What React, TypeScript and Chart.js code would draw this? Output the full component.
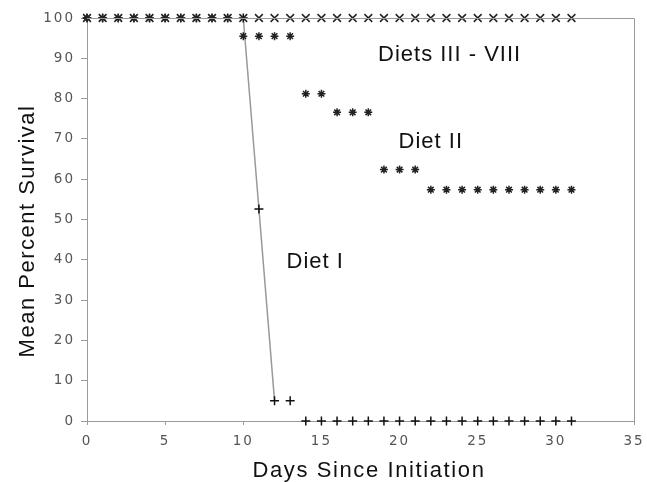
import React, { useEffect, useRef } from 'react';
import { Chart, registerables } from 'chart.js';

Chart.register(...registerables);

const days = [0, 1, 2, 3, 4, 5, 6, 7, 8, 9, 10, 11, 12, 13, 14, 15, 16, 17, 18, 19, 20, 21, 22, 23, 24, 25, 26, 27, 28, 29, 30, 31];
const dietsIIItoVIII = [100, 100, 100, 100, 100, 100, 100, 100, 100, 100, 100, 100, 100, 100, 100, 100, 100, 100, 100, 100, 100, 100, 100, 100, 100, 100, 100, 100, 100, 100, 100, 100];
const dietII = [100, 100, 100, 100, 100, 100, 100, 100, 100, 100, 95.5, 95.5, 95.5, 95.5, 81.2, 81.2, 76.6, 76.6, 76.6, 62.4, 62.4, 62.4, 57.4, 57.4, 57.4, 57.4, 57.4, 57.4, 57.4, 57.4, 57.4, 57.4];
const dietI = [100, 100, 100, 100, 100, 100, 100, 100, 100, 100, 100, 52.6, 5, 5, 0, 0, 0, 0, 0, 0, 0, 0, 0, 0, 0, 0, 0, 0, 0, 0, 0, 0];
const xTicks = [0, 5, 10, 15, 20, 25, 30, 35];
const yTicks = [0, 10, 20, 30, 40, 50, 60, 70, 80, 90, 100];
const xTitle = 'Days Since Initiation';
const yTitle = 'Mean Percent Survival';
const labels = [
  { text: 'Diets III - VIII', x: 23.2, y: 90.8 },
  { text: 'Diet II', x: 22.0, y: 69.3 },
  { text: 'Diet I', x: 14.6, y: 39.5 },
];

const pts = (vals: number[]) => days.map((d, i) => ({ x: d, y: vals[i] }));
const TITLE_FONT = '22px "Liberation Sans", Arial, sans-serif';

const framePlugin = {
  id: 'frameAndLabels',
  beforeDraw(chart: any) {
    chart.ctx.letterSpacing = '2px';
  },
  afterDraw(chart: any) {
    const { ctx, chartArea, scales } = chart;
    ctx.save();
    ctx.strokeStyle = '#9a9a9a';
    ctx.lineWidth = 1;
    ctx.beginPath();
    ctx.moveTo(chartArea.left, chartArea.top + 0.5);
    ctx.lineTo(chartArea.right + 0.5, chartArea.top + 0.5);
    ctx.lineTo(chartArea.right + 0.5, chartArea.bottom);
    ctx.stroke();
    ctx.fillStyle = '#111';
    ctx.font = TITLE_FONT;
    ctx.textAlign = 'center';
    ctx.textBaseline = 'middle';
    ctx.letterSpacing = '1px';
    labels.forEach((l) => {
      ctx.fillText(l.text, scales.x.getPixelForValue(l.x), scales.y.getPixelForValue(l.y));
    });
    ctx.letterSpacing = '1.6px';
    ctx.fillText(xTitle, 369, 470.5);
    ctx.translate(28, 231);
    ctx.rotate(-Math.PI / 2);
    ctx.letterSpacing = '1.5px';
    ctx.fillText(yTitle, 0, 0);
    ctx.restore();
    ctx.letterSpacing = '2px';
  },
};

export default function App() {
  const ref = useRef<HTMLCanvasElement | null>(null);
  useEffect(() => {
    if (!ref.current) return;
    const chart = new Chart(ref.current, {
      type: 'scatter',
      data: {
        datasets: [
          {
            label: 'Diets III - VIII',
            data: pts(dietsIIItoVIII),
            pointStyle: 'crossRot',
            pointRadius: 5.5,
            borderColor: '#222',
            borderWidth: 1.5,
            showLine: false,
            clip: false,
          } as any,
          {
            label: 'Diet II',
            data: pts(dietII),
            pointStyle: 'star',
            pointRadius: 4,
            borderColor: '#222',
            borderWidth: 1.5,
            showLine: false,
            clip: false,
          } as any,
          {
            label: 'Diet I',
            data: pts(dietI),
            pointStyle: 'cross',
            pointRadius: 4.5,
            pointBorderColor: '#111',
            borderColor: '#999',
            borderWidth: 1.5,
            showLine: true,
            clip: false,
            segment: {
              borderColor: (c: any) => (c.p0DataIndex >= 10 && c.p1DataIndex <= 12 ? '#999' : 'rgba(0,0,0,0)'),
            },
          } as any,
        ],
      },
      options: {
        animation: false,
        responsive: true,
        maintainAspectRatio: false,
        layout: { padding: { top: 18, right: 13, left: 0, bottom: 0 } },
        plugins: { legend: { display: false }, tooltip: { enabled: false } },
        scales: {
          x: {
            type: 'linear',
            min: 0,
            max: 35,
            afterFit: (s: any) => { s.height = 61; s.paddingLeft = 0; s.paddingRight = 0; },
            afterBuildTicks: (s: any) => { s.ticks = xTicks.map((v) => ({ value: v })); },
            grid: { display: true, drawOnChartArea: false, drawTicks: true, tickLength: 4, color: '#9a9a9a' },
            border: { display: true, color: '#9a9a9a' },
            ticks: { color: '#555', font: { family: '"DejaVu Sans", sans-serif', size: 13.5 }, padding: 8, maxRotation: 0, autoSkip: false },
            title: { display: false },
          },
          y: {
            type: 'linear',
            min: 0,
            max: 100,
            afterFit: (s: any) => { s.width = 87; s.paddingTop = 0; s.paddingBottom = 0; },
            afterBuildTicks: (s: any) => { s.ticks = yTicks.map((v) => ({ value: v })); },
            grid: { display: true, drawOnChartArea: false, drawTicks: true, tickLength: 6, color: '#9a9a9a' },
            border: { display: true, color: '#9a9a9a' },
            ticks: { color: '#555', font: { family: '"DejaVu Sans", sans-serif', size: 13.5 }, padding: 6, autoSkip: false },
            title: { display: false },
          },
        },
      },
      plugins: [framePlugin],
    });
    return () => chart.destroy();
  }, []);
  return (
    <div style={{ position: 'fixed', left: 0, top: 0, width: 647, height: 482, background: '#fff' }}>
      <canvas ref={ref} />
    </div>
  );
}
